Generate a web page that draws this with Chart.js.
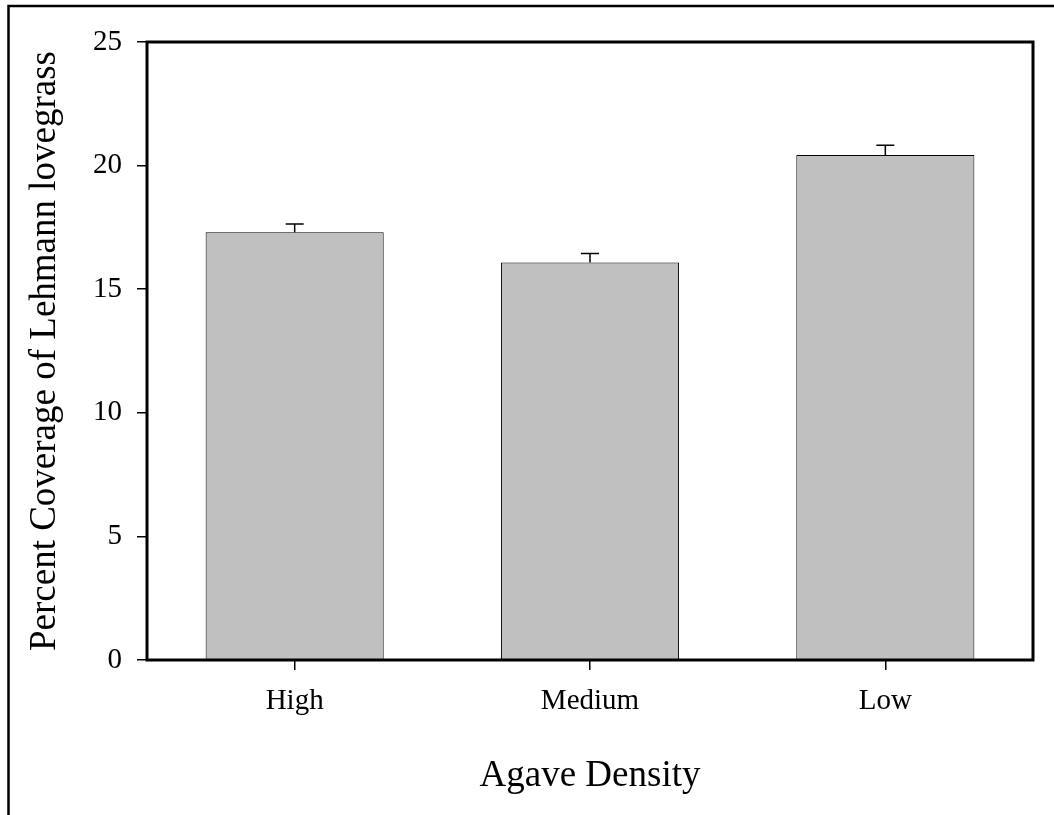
<!DOCTYPE html>
<html>
<head>
<meta charset="utf-8">
<script src="https://cdn.jsdelivr.net/npm/chart.js@4.4.1/dist/chart.umd.min.js"></script>
<style>
  html, body { margin: 0; padding: 0; background: #fff; }
  #wrap { width: 1054px; height: 815px; position: relative; }
  canvas { display: block; }
</style>
</head>
<body>
<div id="wrap"><canvas id="c" width="1054" height="815"></canvas></div>
<script>
const categories = ['High', 'Medium', 'Low'];
const coverage = [17.3, 16.08, 20.43];
const stdErr = [0.34, 0.36, 0.39];
const yTicks = [0, 5, 10, 15, 20, 25];

const SERIF = "'Liberation Serif', 'Times New Roman', serif";

const framePlugin = {
  id: 'frame',
  beforeDraw(chart) {
    const ctx = chart.ctx;
    ctx.save();
    ctx.fillStyle = '#fff';
    ctx.fillRect(0, 0, chart.width, chart.height);
    ctx.strokeStyle = '#000';
    ctx.lineWidth = 2.5;
    ctx.beginPath();
    ctx.moveTo(8.5, chart.height);
    ctx.lineTo(8.5, 6);
    ctx.lineTo(chart.width, 6);
    ctx.stroke();
    ctx.restore();
  },
  afterDatasetsDraw(chart) {
    const ctx = chart.ctx;
    const y = chart.scales.y;
    const meta = chart.getDatasetMeta(0);
    ctx.save();
    ctx.strokeStyle = '#000';
    ctx.lineWidth = 1.5;
    meta.data.forEach((bar, i) => {
      const x = bar.x;
      const yTop = y.getPixelForValue(coverage[i]);
      const yErr = y.getPixelForValue(coverage[i] + stdErr[i]);
      ctx.beginPath();
      ctx.moveTo(x, yTop);
      ctx.lineTo(x, yErr);
      ctx.moveTo(x - 9, yErr);
      ctx.lineTo(x + 9, yErr);
      ctx.stroke();
    });
    const a = chart.chartArea;
    ctx.lineWidth = 3;
    ctx.strokeRect(a.left, a.top, a.right - a.left, a.bottom - a.top);
    ctx.restore();
  }
};

new Chart(document.getElementById('c'), {
  type: 'bar',
  data: {
    labels: categories,
    datasets: [{
      data: coverage,
      backgroundColor: '#c0c0c0',
      borderColor: '#000',
      borderWidth: 1,
      borderSkipped: 'bottom',
      categoryPercentage: 1.0,
      barPercentage: 0.603
    }]
  },
  options: {
    responsive: false,
    animation: false,
    events: [],
    layout: { padding: { left: 0, right: 21, top: 42, bottom: 0 } },
    plugins: { legend: { display: false }, tooltip: { enabled: false } },
    scales: {
      x: {
        offset: true,
        grid: { display: true, drawOnChartArea: false, drawTicks: true, tickLength: 10, offset: false, color: '#000', lineWidth: 1.5 },
        border: { display: false },
        ticks: { color: '#000', font: { family: SERIF, size: 29 }, padding: 14, maxRotation: 0 },
        title: { display: true, text: 'Agave Density', color: '#000', font: { family: SERIF, size: 37 }, padding: { top: 0, bottom: 17 } },
        afterFit(s) { s.height = 155; }
      },
      y: {
        min: 0,
        max: 25,
        afterBuildTicks(s) { s.ticks = yTicks.map(v => ({ value: v })); },
        grid: { display: true, drawOnChartArea: false, drawTicks: true, tickLength: 10, color: '#000', lineWidth: 1.5 },
        border: { display: false },
        ticks: { color: '#000', font: { family: SERIF, size: 29 }, padding: 15 },
        title: { display: true, text: 'Percent Coverage of Lehmann lovegrass', color: '#000', font: { family: SERIF, size: 37 }, padding: { top: 23.5, bottom: 0 } },
        afterFit(s) { s.width = 147; }
      }
    }
  },
  plugins: [framePlugin]
});
</script>
</body>
</html>
